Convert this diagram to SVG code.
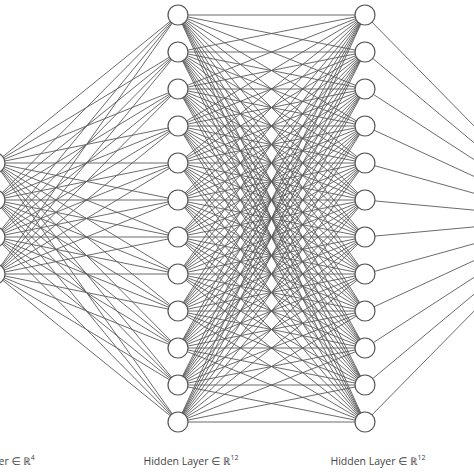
<svg xmlns="http://www.w3.org/2000/svg" width="474" height="474" viewBox="0 0 474 474">
<style>
.c{fill:none;stroke:#5a5a5a;stroke-width:0.9}
.n{fill:#fff;stroke:#555;stroke-width:1.2}
.t{font-family:"Open Sans","Noto Sans","DejaVu Sans",sans-serif;font-size:10.5px;fill:#444;text-anchor:middle}
</style>
<rect width="474" height="474" fill="#fff"/>
<g id="connectors" class="c">
<path d="M-5 163L178 15M-5 163L178 52M-5 163L178 89M-5 163L178 126M-5 163L178 163M-5 163L178 200M-5 163L178 237M-5 163L178 274M-5 163L178 311M-5 163L178 348M-5 163L178 385M-5 163L178 422"/>
<path d="M-5 200L178 15M-5 200L178 52M-5 200L178 89M-5 200L178 126M-5 200L178 163M-5 200L178 200M-5 200L178 237M-5 200L178 274M-5 200L178 311M-5 200L178 348M-5 200L178 385M-5 200L178 422"/>
<path d="M-5 237L178 15M-5 237L178 52M-5 237L178 89M-5 237L178 126M-5 237L178 163M-5 237L178 200M-5 237L178 237M-5 237L178 274M-5 237L178 311M-5 237L178 348M-5 237L178 385M-5 237L178 422"/>
<path d="M-5 274L178 15M-5 274L178 52M-5 274L178 89M-5 274L178 126M-5 274L178 163M-5 274L178 200M-5 274L178 237M-5 274L178 274M-5 274L178 311M-5 274L178 348M-5 274L178 385M-5 274L178 422"/>
<path d="M178 15L365 15M178 15L365 52M178 15L365 89M178 15L365 126M178 15L365 163M178 15L365 200M178 15L365 237M178 15L365 274M178 15L365 311M178 15L365 348M178 15L365 385M178 15L365 422"/>
<path d="M178 52L365 15M178 52L365 52M178 52L365 89M178 52L365 126M178 52L365 163M178 52L365 200M178 52L365 237M178 52L365 274M178 52L365 311M178 52L365 348M178 52L365 385M178 52L365 422"/>
<path d="M178 89L365 15M178 89L365 52M178 89L365 89M178 89L365 126M178 89L365 163M178 89L365 200M178 89L365 237M178 89L365 274M178 89L365 311M178 89L365 348M178 89L365 385M178 89L365 422"/>
<path d="M178 126L365 15M178 126L365 52M178 126L365 89M178 126L365 126M178 126L365 163M178 126L365 200M178 126L365 237M178 126L365 274M178 126L365 311M178 126L365 348M178 126L365 385M178 126L365 422"/>
<path d="M178 163L365 15M178 163L365 52M178 163L365 89M178 163L365 126M178 163L365 163M178 163L365 200M178 163L365 237M178 163L365 274M178 163L365 311M178 163L365 348M178 163L365 385M178 163L365 422"/>
<path d="M178 200L365 15M178 200L365 52M178 200L365 89M178 200L365 126M178 200L365 163M178 200L365 200M178 200L365 237M178 200L365 274M178 200L365 311M178 200L365 348M178 200L365 385M178 200L365 422"/>
<path d="M178 237L365 15M178 237L365 52M178 237L365 89M178 237L365 126M178 237L365 163M178 237L365 200M178 237L365 237M178 237L365 274M178 237L365 311M178 237L365 348M178 237L365 385M178 237L365 422"/>
<path d="M178 274L365 15M178 274L365 52M178 274L365 89M178 274L365 126M178 274L365 163M178 274L365 200M178 274L365 237M178 274L365 274M178 274L365 311M178 274L365 348M178 274L365 385M178 274L365 422"/>
<path d="M178 311L365 15M178 311L365 52M178 311L365 89M178 311L365 126M178 311L365 163M178 311L365 200M178 311L365 237M178 311L365 274M178 311L365 311M178 311L365 348M178 311L365 385M178 311L365 422"/>
<path d="M178 348L365 15M178 348L365 52M178 348L365 89M178 348L365 126M178 348L365 163M178 348L365 200M178 348L365 237M178 348L365 274M178 348L365 311M178 348L365 348M178 348L365 385M178 348L365 422"/>
<path d="M178 385L365 15M178 385L365 52M178 385L365 89M178 385L365 126M178 385L365 163M178 385L365 200M178 385L365 237M178 385L365 274M178 385L365 311M178 385L365 348M178 385L365 385M178 385L365 422"/>
<path d="M178 422L365 15M178 422L365 52M178 422L365 89M178 422L365 126M178 422L365 163M178 422L365 200M178 422L365 237M178 422L365 274M178 422L365 311M178 422L365 348M178 422L365 385M178 422L365 422"/>
<path d="M365 15L565 218.5M365 52L565 218.5M365 89L565 218.5M365 126L565 218.5M365 163L565 218.5M365 200L565 218.5M365 237L565 218.5M365 274L565 218.5M365 311L565 218.5M365 348L565 218.5M365 385L565 218.5M365 422L565 218.5"/>
</g>
<g id="input-layer">
<circle id="in1" class="n" cx="-5" cy="163" r="10"/>
<circle id="in2" class="n" cx="-5" cy="200" r="10"/>
<circle id="in3" class="n" cx="-5" cy="237" r="10"/>
<circle id="in4" class="n" cx="-5" cy="274" r="10"/>
</g>
<g id="hidden-layer-1">
<circle id="h1_1" class="n" cx="178" cy="15" r="10"/>
<circle id="h1_2" class="n" cx="178" cy="52" r="10"/>
<circle id="h1_3" class="n" cx="178" cy="89" r="10"/>
<circle id="h1_4" class="n" cx="178" cy="126" r="10"/>
<circle id="h1_5" class="n" cx="178" cy="163" r="10"/>
<circle id="h1_6" class="n" cx="178" cy="200" r="10"/>
<circle id="h1_7" class="n" cx="178" cy="237" r="10"/>
<circle id="h1_8" class="n" cx="178" cy="274" r="10"/>
<circle id="h1_9" class="n" cx="178" cy="311" r="10"/>
<circle id="h1_10" class="n" cx="178" cy="348" r="10"/>
<circle id="h1_11" class="n" cx="178" cy="385" r="10"/>
<circle id="h1_12" class="n" cx="178" cy="422" r="10"/>
</g>
<g id="hidden-layer-2">
<circle id="h2_1" class="n" cx="365" cy="15" r="10"/>
<circle id="h2_2" class="n" cx="365" cy="52" r="10"/>
<circle id="h2_3" class="n" cx="365" cy="89" r="10"/>
<circle id="h2_4" class="n" cx="365" cy="126" r="10"/>
<circle id="h2_5" class="n" cx="365" cy="163" r="10"/>
<circle id="h2_6" class="n" cx="365" cy="200" r="10"/>
<circle id="h2_7" class="n" cx="365" cy="237" r="10"/>
<circle id="h2_8" class="n" cx="365" cy="274" r="10"/>
<circle id="h2_9" class="n" cx="365" cy="311" r="10"/>
<circle id="h2_10" class="n" cx="365" cy="348" r="10"/>
<circle id="h2_11" class="n" cx="365" cy="385" r="10"/>
<circle id="h2_12" class="n" cx="365" cy="422" r="10"/>
</g>
<g id="labels">
<text class="t" x="-6" y="465">Input Layer ∈ ℝ<tspan font-size="7" dy="-5">4</tspan></text>
<text class="t" x="191" y="465">Hidden Layer ∈ ℝ<tspan font-size="7" dy="-5">12</tspan></text>
<text class="t" x="378" y="465">Hidden Layer ∈ ℝ<tspan font-size="7" dy="-5">12</tspan></text>
</g>
</svg>
